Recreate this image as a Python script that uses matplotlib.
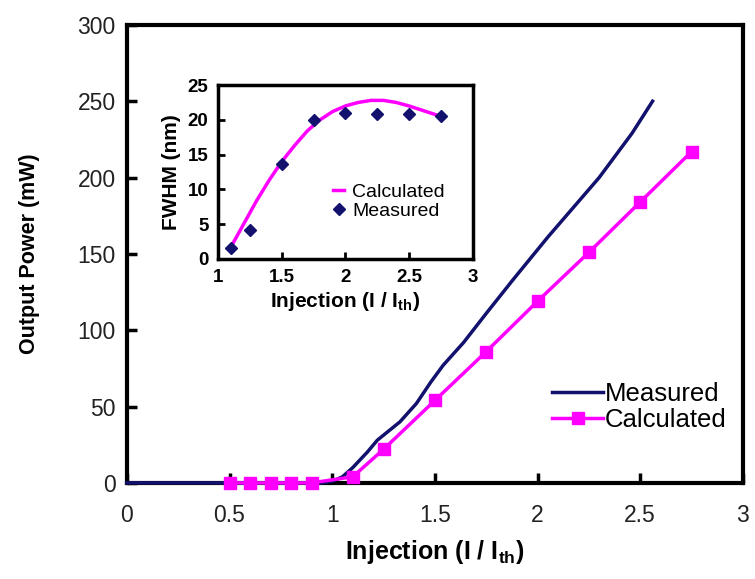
import numpy as np
import matplotlib.pyplot as plt

plt.rcParams['font.family'] = ['Liberation Sans', 'DejaVu Sans']
plt.rcParams['mathtext.fontset'] = 'custom'
plt.rcParams['mathtext.rm'] = 'Liberation Sans'
plt.rcParams['mathtext.bf'] = 'Liberation Sans:bold'

NAVY = '#12126e'
MAGENTA = '#ff00ff'

# main plot: output power vs injection
meas_x = [0.0, 0.95, 1.0, 1.05, 1.1, 1.17, 1.22, 1.33, 1.41, 1.48, 1.54,
          1.64, 1.75, 1.88, 2.05, 2.3, 2.46, 2.56]
meas_y = [0, 0, 1, 4, 10, 20, 28, 40, 52, 66, 77, 92, 111, 133, 161, 200,
          229, 250]
calc_x = [0.5, 0.6, 0.7, 0.8, 0.9, 1.1, 1.25, 1.5, 1.75, 2.0, 2.25, 2.5, 2.75]
calc_y = [0, 0, 0, 0, 0, 4, 22, 54, 86, 119, 151, 184, 217]

# inset: FWHM vs injection
fw_meas_x = [1.1, 1.25, 1.5, 1.75, 2.0, 2.25, 2.5, 2.75]
fw_meas_y = [1.5, 4.2, 13.6, 20.0, 21.0, 20.9, 20.8, 20.6]
fw_calc_x = [1.1, 1.2, 1.3, 1.4, 1.5, 1.6, 1.7, 1.8, 1.9, 2.0, 2.1, 2.2,
             2.3, 2.4, 2.5, 2.6, 2.7, 2.75]
fw_calc_y = [1.7, 5.0, 8.3, 11.3, 14.0, 16.3, 18.4, 20.0, 21.2, 22.0, 22.5,
             22.8, 22.8, 22.5, 22.0, 21.4, 20.8, 20.5]

fig = plt.figure(figsize=(7.55, 5.79), dpi=100)
ax = fig.add_axes([0.168, 0.166, 0.816, 0.791])

ax.plot(meas_x, meas_y, color=NAVY, lw=2.5, label='Measured', clip_on=False,
        zorder=3)
ax.plot(calc_x, calc_y, color=MAGENTA, lw=2.5, marker='s', ms=9,
        label='Calculated', clip_on=False, zorder=4)

ax.set_xlim(0, 3)
ax.set_ylim(0, 300)
ax.set_xticks([0, 0.5, 1, 1.5, 2, 2.5, 3])
ax.set_xticklabels(['0', '0.5', '1', '1.5', '2', '2.5', '3'])
ax.set_yticks(range(0, 301, 50))
ax.tick_params(direction='in', length=7, width=2.5, labelsize=16.5, pad=8,
               colors='black', labelcolor='#222222')
ax.tick_params(axis='x', pad=15)
for s in ax.spines.values():
    s.set_linewidth(3)
ax.set_xlabel(r'Injection (I / I$_{\mathbf{th}}$)', fontsize=18,
              fontweight='bold', labelpad=8)
ax.set_ylabel('Output Power (mW)', fontsize=15.5, fontweight='bold',
              labelpad=27)
ax.legend(loc='center left', bbox_to_anchor=(0.69, 0.166), frameon=False,
          fontsize=18.5, handlelength=2.0, handletextpad=0.05,
          labelspacing=0.1, borderaxespad=0, borderpad=0)

# inset
ins = fig.add_axes([0.289, 0.553, 0.337, 0.300])
ins.plot(fw_calc_x, fw_calc_y, color=MAGENTA, lw=2.5, label='Calculated')
ins.plot(fw_meas_x, fw_meas_y, ls='none', marker='D', ms=6.5, color=NAVY,
         label='Measured')
ins.set_xlim(1, 3)
ins.set_ylim(0, 25)
ins.set_xticks([1, 1.5, 2, 2.5, 3])
ins.set_xticklabels(['1', '1.5', '2', '2.5', '3'])
ins.set_yticks(range(0, 26, 5))
ins.tick_params(direction='in', length=5, width=2, labelsize=13.5, pad=7)
for lab in ins.get_xticklabels() + ins.get_yticklabels():
    lab.set_fontweight('bold')
for s in ins.spines.values():
    s.set_linewidth(2.5)
ins.set_xlabel(r'Injection (I / I$_{\mathbf{th}}$)', fontsize=15,
               fontweight='bold', labelpad=3)
ins.set_ylabel('FWHM (nm)', fontsize=15, fontweight='bold', labelpad=5)
ins.legend(loc='center left', bbox_to_anchor=(0.45, 0.33), frameon=False,
           fontsize=14, handlelength=0.6, handletextpad=0.4,
           labelspacing=0.1, borderaxespad=0, borderpad=0)

fig.savefig('out.png', dpi=100)
